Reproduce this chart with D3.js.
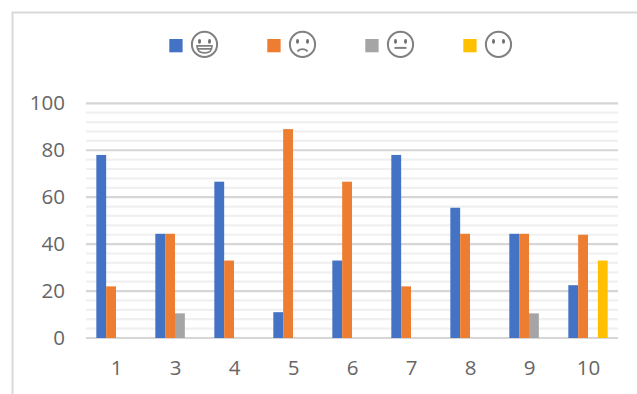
<!DOCTYPE html>
<html>
<head>
<meta charset="utf-8">
<script src="https://cdn.jsdelivr.net/npm/d3@7/dist/d3.min.js"></script>
<style>
html,body{margin:0;padding:0;background:#fff}
svg{display:block}
text{font-family:"Open Sans",sans-serif;fill:#666666}
</style>
</head>
<body>
<svg id="chart" width="637" height="394"></svg>
<script>
const categories = ["1","3","4","5","6","7","8","9","10"];
const seriesNames = ["grin","sad","neutral","mute"];
const seriesColors = ["#4472c4","#ed7d31","#a5a5a5","#ffc000"];
const grin = [78,44.4,66.6,11,33,78,55.5,44.4,22.5];
const sad = [22,44.4,33,89,66.6,22,44.4,44.4,44];
const neutral = [0,10.5,0,0,0,0,0,10.5,0];
const mute = [0,0,0,0,0,0,0,0,33];
const majorTicks = [0,20,40,60,80,100];
const minorStep = 4;

const svg = d3.select("#chart");
const margin = {left:86, right:19, top:103.3, bottom:56};
const W = 637, H = 394;

const x = d3.scaleBand().domain(categories).range([margin.left, W-margin.right]).paddingInner(0.333).paddingOuter(0.175);
const series = d3.scaleBand().domain(seriesNames).range([0, x.bandwidth()]);
const y = d3.scaleLinear().domain([0,100]).range([H-margin.bottom, margin.top]);

// outer chart frame, open on the right and bottom
svg.append("path")
  .attr("d", d3.line()([[12.5,H],[12.5,12.5],[W,12.5]]))
  .attr("fill","none").attr("stroke","#d9d9d9").attr("stroke-width",2);

// gridlines
const minorTicks = d3.range(0,100,minorStep).filter(v => v%20!==0);
svg.append("g").selectAll("line").data(minorTicks).join("line")
  .attr("x1",margin.left).attr("x2",W-margin.right)
  .attr("y1",d=>y(d)).attr("y2",d=>y(d))
  .attr("stroke","#f0f0f0").attr("stroke-width",2.2);
svg.append("g").selectAll("line").data(majorTicks).join("line")
  .attr("x1",margin.left).attr("x2",W-margin.right)
  .attr("y1",d=>y(d)).attr("y2",d=>y(d))
  .attr("stroke","#d6d6d6").attr("stroke-width",2.2);

// bars
const table = [grin,sad,neutral,mute];
seriesNames.forEach((name,i)=>{
  svg.append("g").selectAll("rect")
    .data(categories.map((c,j)=>({c,v:table[i][j]})).filter(d=>d.v>0))
    .join("rect")
    .attr("x",d=>x(d.c)+series(name))
    .attr("width",series.bandwidth())
    .attr("y",d=>y(d.v))
    .attr("height",d=>y(0)-y(d.v))
    .attr("fill",seriesColors[i]);
});

// axes
const yAxis = d3.axisLeft(y).tickValues(majorTicks).tickSize(0).tickPadding(21);
const gy = svg.append("g").attr("transform",`translate(${margin.left},0)`).call(yAxis);
gy.select(".domain").remove();
gy.selectAll("text").style("font-size","20.5px").style("font-family",'"Open Sans",sans-serif').attr("fill","#666666");

const xAxis = d3.axisBottom(x).tickSize(0).tickPadding(22);
const gx = svg.append("g").attr("transform",`translate(0.5,${y(0)})`).call(xAxis);
gx.select(".domain").remove();
gx.selectAll("text").style("font-size","20.5px").style("font-family",'"Open Sans",sans-serif').attr("fill","#666666");

// legend: colour swatch plus a hand-drawn face
const legendX = d3.scalePoint().domain(seriesNames).range([169.3,463.3]);
const faceStroke = "#808080";
const legend = svg.append("g").selectAll("g").data(seriesNames).join("g")
  .attr("transform",d=>`translate(${legendX(d)},0)`);
legend.append("rect").attr("x",0).attr("y",39).attr("width",13.3).attr("height",13.3)
  .attr("fill",(d,i)=>seriesColors[i]);
const face = legend.append("g").attr("transform","translate(35.2,44.4)");
face.append("circle").attr("r",12.6).attr("fill","none").attr("stroke",faceStroke).attr("stroke-width",2);
face.selectAll("ellipse").data([-5,5]).join("ellipse")
  .attr("cx",d=>d).attr("cy",-3).attr("rx",1.5).attr("ry",2.3).attr("fill","#6f6f6f");
face.filter(d=>d==="grin").append("path")
  .attr("d","M-7.5 1.5H7.5C7.5 6.5 4 8.5 0 8.5C-4 8.5 -7.5 6.5 -7.5 1.5Z M-6.5 4.5H6.5")
  .attr("fill","#fff").attr("stroke",faceStroke).attr("stroke-width",1.6);
face.filter(d=>d==="sad").append("path")
  .attr("d","M-5 7C-3 4 3 4 5 7")
  .attr("fill","none").attr("stroke",faceStroke).attr("stroke-width",1.8);
face.filter(d=>d==="neutral").append("path")
  .attr("d","M-6 3.5H6")
  .attr("fill","none").attr("stroke",faceStroke).attr("stroke-width",2);
</script>
</body>
</html>
